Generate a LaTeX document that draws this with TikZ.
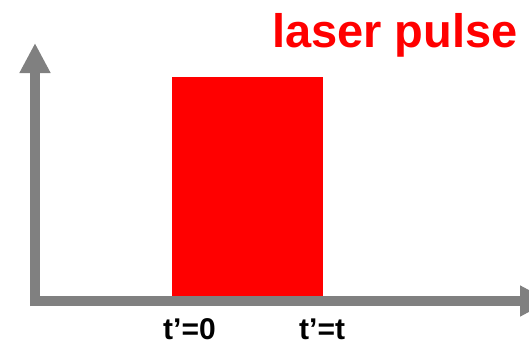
\documentclass[tikz,border=0pt]{standalone}
\usepackage{fontspec}
\setmainfont{Liberation Sans}
\usetikzlibrary{arrows.meta}
\definecolor{axisgray}{RGB}{128,128,128}
\definecolor{pulsered}{RGB}{255,0,0}
\tikzset{
  axis/.style={draw=axisgray, line width=10pt, -{Triangle[width=29pt,length=30pt]}},
  lbl/.style={font=\bfseries\fontsize{30}{30}\selectfont, inner sep=0pt, anchor=base west, text depth=0pt},
}
\begin{document}
\begin{tikzpicture}[x=1pt,y=-1pt]
\useasboundingbox (0,0) rectangle (529,343);
\node[fill=pulsered, inner sep=0pt, minimum width=151pt, minimum height=219pt, anchor=north west] (pulse) at (172,77) {};
\coordinate (origin) at (35,306);
\coordinate (ytip) at (35,43);
\coordinate (xstart) at (30,301);
\coordinate (xtip) at (550,301);
\draw[axis] (origin) -- (ytip);
\draw[axis] (xstart) -- (xtip);
\node[lbl] (t0) at (163,339) {t’=0};
\node[lbl] (tt) at (299,339) {t’=t};
\node[lbl, text=pulsered, font=\bfseries\fontsize{47}{47}\selectfont] (title) at (272,47) {laser pulse};
\end{tikzpicture}
\end{document}
